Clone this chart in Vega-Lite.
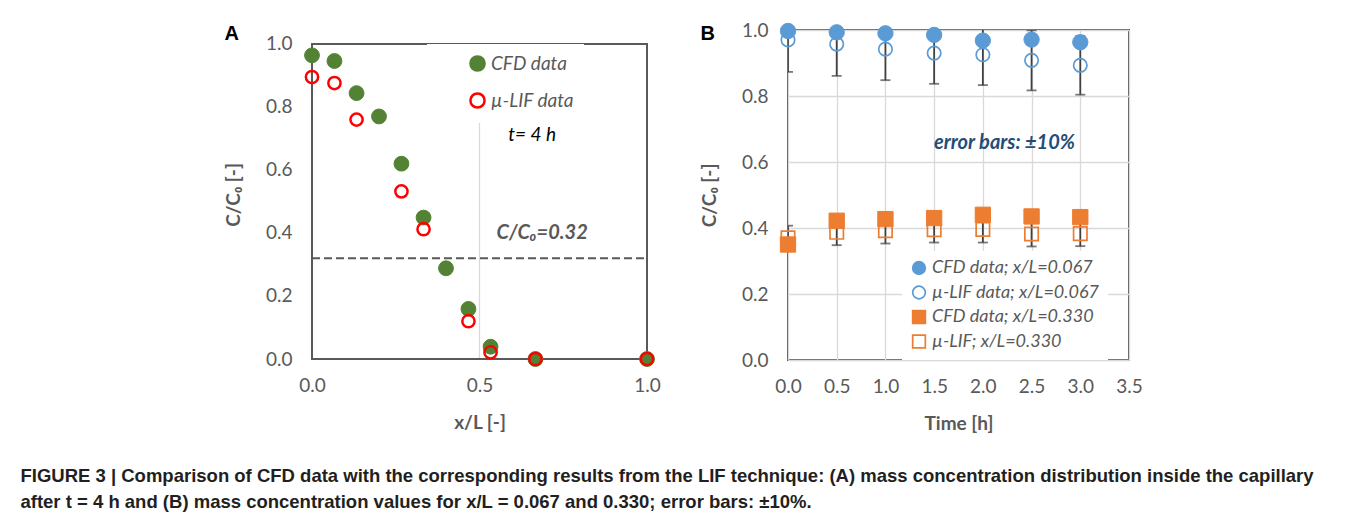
{
  "$schema": "https://vega.github.io/schema/vega-lite/v6.json",
  "background": "white",
  "padding": {"left": 20, "top": 20, "right": 10, "bottom": 10},
  "spacing": 38,
  "resolve": {
    "scale": {"fill": "independent", "stroke": "independent", "shape": "independent"},
    "legend": {"fill": "independent", "stroke": "independent", "shape": "independent"}
  },
  "title": {
    "text": ["FIGURE 3 | Comparison of CFD data with the corresponding results from the LIF technique: (A) mass concentration distribution inside the capillary", "after t = 4 h and (B) mass concentration values for x/L = 0.067 and 0.330; error bars: ±10%."],
    "orient": "bottom", "anchor": "start", "dx": -204, "offset": 33,
    "font": "Liberation Sans", "fontSize": 18.5, "fontWeight": "bold", "color": "#231f20", "lineHeight": 26
  },
  "config": {
    "view": {"stroke": "#595959", "strokeWidth": 2},
    "axis": {
      "labelFont": "Lato", "labelFontSize": 19, "labelColor": "#595959",
      "titleFont": "Lato", "titleFontSize": 19, "titleFontWeight": "bold", "titleColor": "#595959",
      "ticks": false, "domain": false, "gridColor": "#d9d9d9", "gridWidth": 1.3,
      "labelPadding": 20, "titlePadding": 22, "format": ".1f", "labelFlush": false
    },
    "axisX": {"labelPadding": 17, "titlePadding": 18},
    "legend": {
      "orient": "none", "title": null, "labelFont": "Lato", "labelFontStyle": "italic", "labelColor": "#595959",
      "fillColor": "white", "labelOffset": 4, "labelLimit": 0
    }
  },
  "hconcat": [
    {
      "width": 335, "height": 329,
      "view": {"stroke": null},
      "title": {"text": "A", "anchor": "start", "font": "Liberation Sans", "fontSize": 20, "fontWeight": "bold", "color": "black", "offset": -14},
      "data": {"values": [
        {"x": 0.0, "c": 0.964, "series": "CFD data"},
        {"x": 0.067, "c": 0.946, "series": "CFD data"},
        {"x": 0.133, "c": 0.844, "series": "CFD data"},
        {"x": 0.2, "c": 0.770, "series": "CFD data"},
        {"x": 0.267, "c": 0.620, "series": "CFD data"},
        {"x": 0.333, "c": 0.449, "series": "CFD data"},
        {"x": 0.4, "c": 0.288, "series": "CFD data"},
        {"x": 0.467, "c": 0.159, "series": "CFD data"},
        {"x": 0.533, "c": 0.039, "series": "CFD data"},
        {"x": 0.667, "c": 0.0, "series": "CFD data"},
        {"x": 1.0, "c": 0.0, "series": "CFD data"},
        {"x": 0.0, "c": 0.895, "series": "µ-LIF data"},
        {"x": 0.067, "c": 0.876, "series": "µ-LIF data"},
        {"x": 0.133, "c": 0.760, "series": "µ-LIF data"},
        {"x": 0.267, "c": 0.532, "series": "µ-LIF data"},
        {"x": 0.333, "c": 0.412, "series": "µ-LIF data"},
        {"x": 0.467, "c": 0.120, "series": "µ-LIF data"},
        {"x": 0.533, "c": 0.021, "series": "µ-LIF data"},
        {"x": 0.667, "c": 0.0, "series": "µ-LIF data"},
        {"x": 1.0, "c": 0.0, "series": "µ-LIF data"}
      ]},
      "layer": [
        {
          "data": {"values": [{"grid": 0.5}]},
          "mark": {"type": "rule", "color": "#d9d9d9", "strokeWidth": 1.3},
          "encoding": {
            "x": {"field": "grid", "type": "quantitative", "title": "x/L [-]", "scale": {"domain": [0, 1], "nice": false}, "axis": {"values": [0, 0.5, 1.0], "grid": false}},
            "y": {"datum": 0, "type": "quantitative", "title": "C/C₀ [-]", "scale": {"domain": [0, 1.0444], "nice": false}, "axis": {"values": [0, 0.2, 0.4, 0.6, 0.8, 1.0]}},
            "y2": {"datum": 1}
          }
        },
        {
          "data": {"values": [{"threshold": 0.32}]},
          "mark": {"type": "rule", "strokeDash": [8, 4], "strokeWidth": 2, "color": "#595959"},
          "encoding": {
            "x": {"datum": 0, "type": "quantitative", "title": "x/L [-]"},
            "x2": {"datum": 1},
            "y": {"field": "threshold", "type": "quantitative", "title": "C/C₀ [-]"}
          }
        },
        {
          "data": {"values": [{"frame": "plot"}]},
          "mark": {"type": "rect", "fill": null, "fillOpacity": 0, "stroke": "#595959", "strokeWidth": 2},
          "encoding": {
            "x": {"datum": 0, "type": "quantitative", "title": "x/L [-]"},
            "x2": {"datum": 1},
            "y": {"datum": 0, "type": "quantitative", "title": "C/C₀ [-]"},
            "y2": {"datum": 1}
          }
        },
        {
          "transform": [{"filter": "datum.series == 'CFD data'"}],
          "mark": {"type": "point", "size": 220, "strokeWidth": 1, "opacity": 1},
          "encoding": {
            "x": {"field": "x", "type": "quantitative", "title": "x/L [-]"},
            "y": {"field": "c", "type": "quantitative", "title": "C/C₀ [-]"},
            "fill": {"field": "series", "type": "nominal", "scale": {"domain": ["CFD data", "µ-LIF data"], "range": ["#548235", "transparent"]},
              "legend": {"legendX": 115, "legendY": 14, "padding": 10, "symbolOffset": 31, "labelFontSize": 19, "symbolSize": 200, "symbolStrokeWidth": 2.5, "rowPadding": 12}},
            "stroke": {"field": "series", "type": "nominal", "scale": {"domain": ["CFD data", "µ-LIF data"], "range": ["#548235", "#ff0000"]}}
          }
        },
        {
          "transform": [{"filter": "datum.series != 'CFD data'"}],
          "mark": {"type": "point", "size": 150, "strokeWidth": 2.5, "opacity": 1},
          "encoding": {
            "x": {"field": "x", "type": "quantitative", "title": "x/L [-]"},
            "y": {"field": "c", "type": "quantitative", "title": "C/C₀ [-]"},
            "fill": {"field": "series", "type": "nominal"},
            "stroke": {"field": "series", "type": "nominal"}
          }
        },
        {
          "data": {"values": [{"note": "t= 4 h"}]},
          "mark": {"type": "text", "font": "Lato", "fontSize": 19, "fontStyle": "italic", "color": "#000000", "align": "center", "baseline": "middle"},
          "encoding": {
            "text": {"field": "note"},
            "x": {"datum": 0.657, "type": "quantitative", "title": "x/L [-]"},
            "y": {"datum": 0.711, "type": "quantitative", "title": "C/C₀ [-]"}
          }
        },
        {
          "data": {"values": [{"note": "C/C₀=0.32"}]},
          "mark": {"type": "text", "font": "Lato", "fontSize": 20, "fontStyle": "italic", "fontWeight": "bold", "color": "#595959", "align": "center", "baseline": "middle"},
          "encoding": {
            "text": {"field": "note"},
            "x": {"datum": 0.687, "type": "quantitative", "title": "x/L [-]"},
            "y": {"datum": 0.40, "type": "quantitative", "title": "C/C₀ [-]"}
          }
        }
      ]
    },
    {
      "width": 341, "height": 330,
      "title": {"text": "B", "anchor": "start", "font": "Liberation Sans", "fontSize": 20, "fontWeight": "bold", "color": "black", "offset": -23},
      "data": {"values": [
        {"t": 0.0, "c": 0.997, "series": "CFD data; x/L=0.067", "kind": "CFD"},
        {"t": 0.5, "c": 0.993, "series": "CFD data; x/L=0.067", "kind": "CFD"},
        {"t": 1.0, "c": 0.990, "series": "CFD data; x/L=0.067", "kind": "CFD"},
        {"t": 1.5, "c": 0.985, "series": "CFD data; x/L=0.067", "kind": "CFD"},
        {"t": 2.0, "c": 0.968, "series": "CFD data; x/L=0.067", "kind": "CFD"},
        {"t": 2.5, "c": 0.971, "series": "CFD data; x/L=0.067", "kind": "CFD"},
        {"t": 3.0, "c": 0.963, "series": "CFD data; x/L=0.067", "kind": "CFD"},
        {"t": 0.0, "c": 0.970, "lo": 0.873, "hi": 1.067, "series": "µ-LIF data; x/L=0.067", "kind": "LIF"},
        {"t": 0.5, "c": 0.957, "lo": 0.861, "hi": 1.053, "series": "µ-LIF data; x/L=0.067", "kind": "LIF"},
        {"t": 1.0, "c": 0.942, "lo": 0.848, "hi": 1.036, "series": "µ-LIF data; x/L=0.067", "kind": "LIF"},
        {"t": 1.5, "c": 0.930, "lo": 0.837, "hi": 1.023, "series": "µ-LIF data; x/L=0.067", "kind": "LIF"},
        {"t": 2.0, "c": 0.925, "lo": 0.833, "hi": 1.018, "series": "µ-LIF data; x/L=0.067", "kind": "LIF"},
        {"t": 2.5, "c": 0.908, "lo": 0.817, "hi": 0.999, "series": "µ-LIF data; x/L=0.067", "kind": "LIF"},
        {"t": 3.0, "c": 0.893, "lo": 0.804, "hi": 0.982, "series": "µ-LIF data; x/L=0.067", "kind": "LIF"},
        {"t": 0.0, "c": 0.350, "series": "CFD data; x/L=0.330", "kind": "CFD"},
        {"t": 0.5, "c": 0.422, "series": "CFD data; x/L=0.330", "kind": "CFD"},
        {"t": 1.0, "c": 0.427, "series": "CFD data; x/L=0.330", "kind": "CFD"},
        {"t": 1.5, "c": 0.430, "series": "CFD data; x/L=0.330", "kind": "CFD"},
        {"t": 2.0, "c": 0.440, "series": "CFD data; x/L=0.330", "kind": "CFD"},
        {"t": 2.5, "c": 0.435, "series": "CFD data; x/L=0.330", "kind": "CFD"},
        {"t": 3.0, "c": 0.433, "series": "CFD data; x/L=0.330", "kind": "CFD"},
        {"t": 0.0, "c": 0.370, "lo": 0.333, "hi": 0.407, "series": "µ-LIF; x/L=0.330", "kind": "LIF"},
        {"t": 0.5, "c": 0.387, "lo": 0.348, "hi": 0.426, "series": "µ-LIF; x/L=0.330", "kind": "LIF"},
        {"t": 1.0, "c": 0.392, "lo": 0.353, "hi": 0.431, "series": "µ-LIF; x/L=0.330", "kind": "LIF"},
        {"t": 1.5, "c": 0.395, "lo": 0.356, "hi": 0.435, "series": "µ-LIF; x/L=0.330", "kind": "LIF"},
        {"t": 2.0, "c": 0.396, "lo": 0.356, "hi": 0.436, "series": "µ-LIF; x/L=0.330", "kind": "LIF"},
        {"t": 2.5, "c": 0.382, "lo": 0.344, "hi": 0.420, "series": "µ-LIF; x/L=0.330", "kind": "LIF"},
        {"t": 3.0, "c": 0.383, "lo": 0.345, "hi": 0.421, "series": "µ-LIF; x/L=0.330", "kind": "LIF"}
      ]},
      "layer": [
        {
          "transform": [{"filter": "datum.kind == 'LIF'"}],
          "mark": {"type": "rule", "color": "#404040", "strokeWidth": 1.8, "clip": true},
          "encoding": {
            "x": {"field": "t", "type": "quantitative", "title": "Time [h]", "scale": {"domain": [0, 3.5], "nice": false}, "axis": {"values": [0, 0.5, 1.0, 1.5, 2.0, 2.5, 3.0, 3.5]}},
            "y": {"field": "lo", "type": "quantitative", "title": "C/C₀ [-]", "scale": {"domain": [0, 1], "nice": false}, "axis": {"values": [0, 0.2, 0.4, 0.6, 0.8, 1.0]}},
            "y2": {"field": "hi"}
          }
        },
        {
          "transform": [{"filter": "datum.kind == 'LIF'"}],
          "mark": {"type": "tick", "orient": "horizontal", "color": "#404040", "size": 10, "thickness": 1.8, "clip": true},
          "encoding": {
            "x": {"field": "t", "type": "quantitative", "title": "Time [h]"},
            "y": {"field": "lo", "type": "quantitative", "title": "C/C₀ [-]"}
          }
        },
        {
          "transform": [{"filter": "datum.kind == 'LIF'"}],
          "mark": {"type": "tick", "orient": "horizontal", "color": "#404040", "size": 10, "thickness": 1.8, "clip": true},
          "encoding": {
            "x": {"field": "t", "type": "quantitative", "title": "Time [h]"},
            "y": {"field": "hi", "type": "quantitative", "title": "C/C₀ [-]"}
          }
        },
        {
          "transform": [{"filter": "datum.kind == 'LIF'"}],
          "mark": {"type": "point", "size": 180, "strokeWidth": 1.7, "opacity": 1},
          "encoding": {
            "x": {"field": "t", "type": "quantitative", "title": "Time [h]"},
            "y": {"field": "c", "type": "quantitative", "title": "C/C₀ [-]"},
            "fill": {"field": "series", "type": "nominal", "scale": {"domain": ["CFD data; x/L=0.067", "µ-LIF data; x/L=0.067", "CFD data; x/L=0.330", "µ-LIF; x/L=0.330"], "range": ["#5b9bd5", "transparent", "#ed7d31", "transparent"]},
              "legend": {"legendX": 114, "legendY": 221, "padding": 8, "labelFontSize": 18, "symbolSize": 160, "symbolStrokeWidth": 1.7, "rowPadding": 4.5}},
            "stroke": {"field": "series", "type": "nominal", "scale": {"domain": ["CFD data; x/L=0.067", "µ-LIF data; x/L=0.067", "CFD data; x/L=0.330", "µ-LIF; x/L=0.330"], "range": ["#5b9bd5", "#5b9bd5", "#ed7d31", "#ed7d31"]}},
            "shape": {"field": "series", "type": "nominal", "scale": {"domain": ["CFD data; x/L=0.067", "µ-LIF data; x/L=0.067", "CFD data; x/L=0.330", "µ-LIF; x/L=0.330"], "range": ["circle", "circle", "square", "square"]}}
          }
        },
        {
          "transform": [{"filter": "datum.kind == 'CFD'"}],
          "mark": {"type": "point", "size": 235, "strokeWidth": 1, "opacity": 1},
          "encoding": {
            "x": {"field": "t", "type": "quantitative", "title": "Time [h]"},
            "y": {"field": "c", "type": "quantitative", "title": "C/C₀ [-]"},
            "fill": {"field": "series", "type": "nominal"},
            "stroke": {"field": "series", "type": "nominal"},
            "shape": {"field": "series", "type": "nominal"}
          }
        },
        {
          "data": {"values": [{"note": "error bars: ±10%"}]},
          "mark": {"type": "text", "font": "Lato", "fontSize": 20, "fontStyle": "italic", "fontWeight": "bold", "color": "#1f4e79", "align": "center", "baseline": "middle"},
          "encoding": {
            "text": {"field": "note"},
            "x": {"datum": 2.222, "type": "quantitative", "title": "Time [h]"},
            "y": {"datum": 0.658, "type": "quantitative", "title": "C/C₀ [-]"}
          }
        }
      ]
    }
  ]
}
